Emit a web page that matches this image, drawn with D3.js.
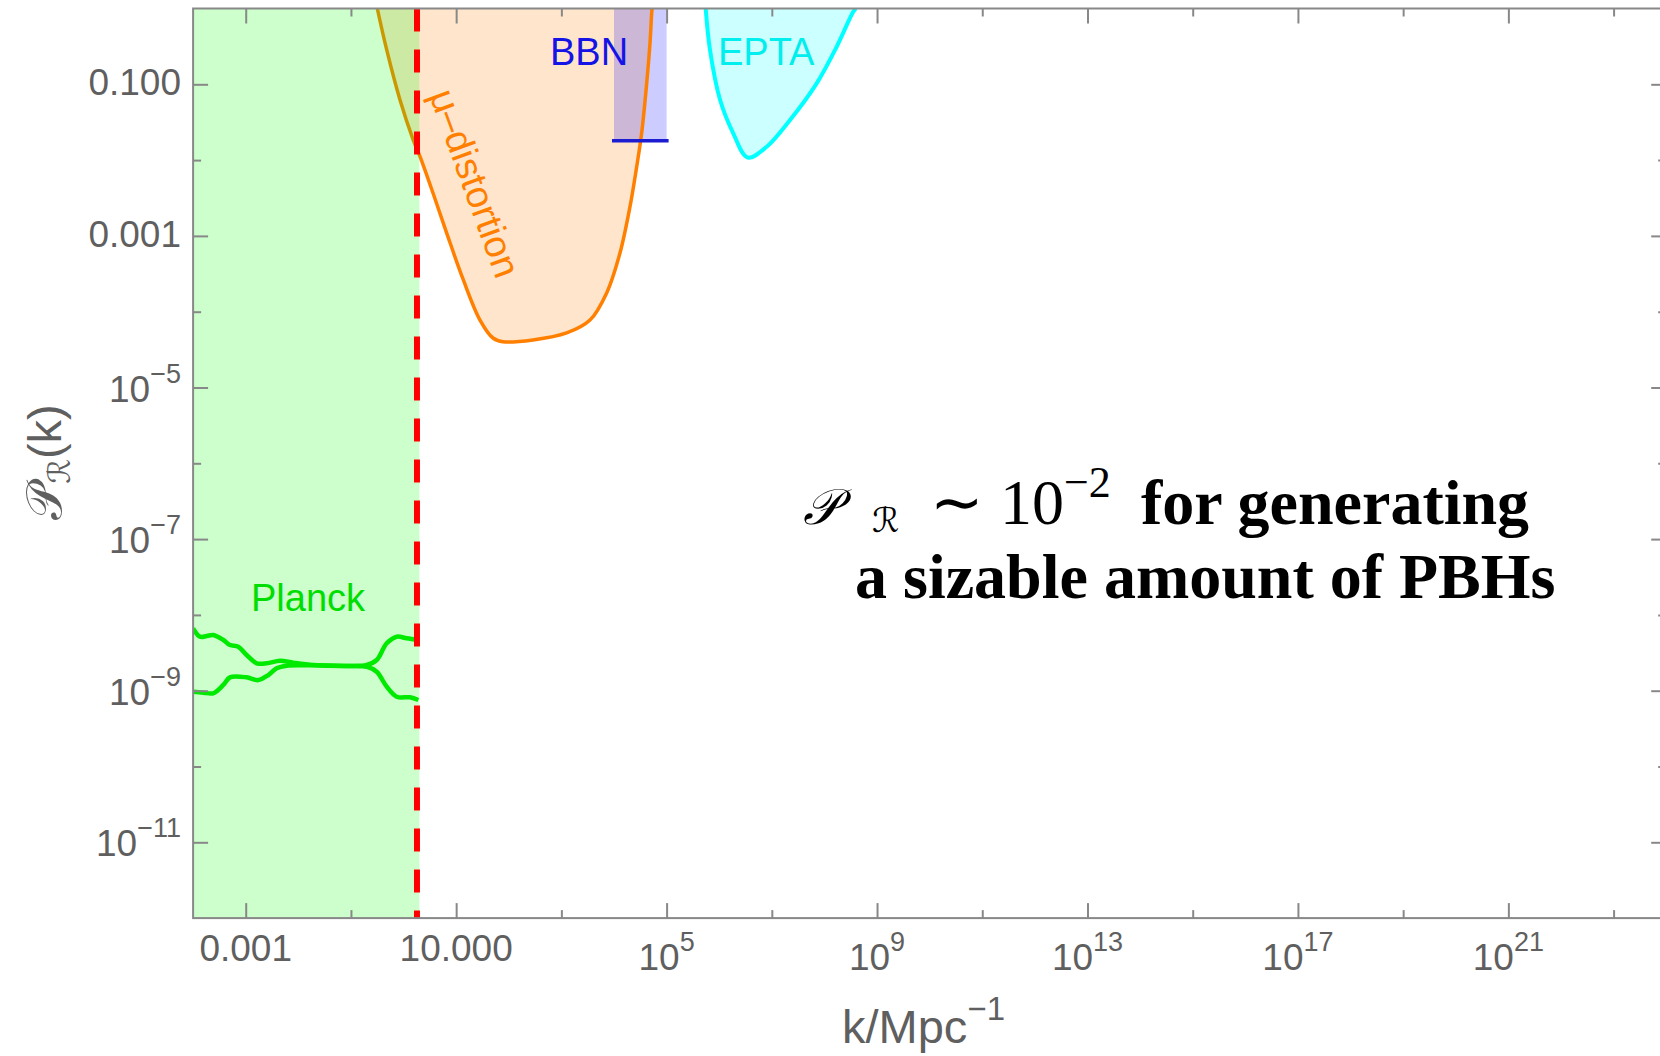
<!DOCTYPE html>
<html>
<head>
<meta charset="utf-8">
<script src="https://cdn.jsdelivr.net/npm/d3@7"></script>
<style>
  body { margin:0; background:#fff; }
  svg { display:block; }
  .tick-label { font-family: Arial, "Liberation Sans", sans-serif; font-size:37px; fill:#5f5f5f; }
  .axis-title { font-family: Arial, "Liberation Sans", sans-serif; font-size:47px; fill:#5f5f5f; }
  .note { font-family: "Liberation Serif", "Times New Roman", serif; fill:#000; }
</style>
</head>
<body>
<div class="chart-container"></div>
<script>
//Data (k in Mpc^-1, P_R(k))
const muK = [0.317, 0.479, 0.857, 1.53, 2.06, 3.63, 6.61, 13.7, 28.4, 50.1, 77.5, 288, 1260, 3500, 7260, 1.30e4, 2.01e4, 2.70e4, 3.36e4, 4.19e4, 4.84e4, 5.21e4, 5.3e4];
const muP = [1, 0.284, 0.0621, 0.0184, 0.0111, 3.68e-3, 1.09e-3, 2.62e-4, 7.76e-5, 4.50e-5, 4.02e-5, 4.24e-5, 5.24e-5, 7.76e-5, 1.77e-4, 5.95e-4, 2.41e-3, 8.18e-3, 0.0228, 0.104, 0.351, 0.873, 1];

const eptaK = [5.53e5, 6.68e5, 1.04e6, 1.85e6, 3.48e6, 8.0e6, 2.22e7, 7.13e7, 1.71e8, 3.54e8, 3.98e8];
const eptaP = [1, 0.284, 0.0621, 0.0226, 0.0108, 0.0150, 0.0338, 0.103, 0.313, 0.908, 1];

const bbnK = [1e4, 1e5];
const bbnP = 0.018;

const planckUpK = [1.0e-4, 1.35e-4, 1.82e-4, 2.42e-4, 3.75e-4, 5.02e-4, 7.23e-4, 1.04e-3, 1.62e-3, 2.51e-3, 4.49e-3, 8.03e-3, 0.0193, 0.0832, 0.200, 0.309, 0.479, 0.741, 1.15, 1.91];
const planckUpP = [6.65e-9, 5.16e-9, 5.27e-9, 5.43e-9, 4.67e-9, 4.01e-9, 3.80e-9, 2.96e-9, 2.30e-9, 2.30e-9, 2.49e-9, 2.34e-9, 2.18e-9, 2.12e-9, 2.18e-9, 2.54e-9, 4.22e-9, 5.16e-9, 4.91e-9, 4.67e-9];
const planckLowK = [1.0e-4, 1.56e-4, 2.42e-4, 3.75e-4, 5.02e-4, 1.04e-3, 1.73e-3, 2.69e-3, 3.88e-3, 6.01e-3, 0.0193, 0.0832, 0.200, 0.309, 0.479, 0.741, 1.33, 1.91];
const planckLowP = [9.70e-10, 9.42e-10, 9.25e-10, 1.19e-9, 1.50e-9, 1.50e-9, 1.38e-9, 1.61e-9, 1.98e-9, 2.14e-9, 2.16e-9, 2.12e-9, 2.07e-9, 1.78e-9, 1.13e-9, 8.33e-10, 8.18e-10, 7.54e-10];
const planckFillK = [1e-4, 2.0];
const planckLimitK = 1.8;

//Ticks
const xMajor = [1e-3, 1e1, 1e5, 1e9, 1e13, 1e17, 1e21];
const xLabels = ['0.001', '10.000', '10^5', '10^9', '10^13', '10^17', '10^21'];
const xMinor = [1e-1, 1e3, 1e7, 1e11, 1e15, 1e19, 1e23];
const yMajor = [1e-1, 1e-3, 1e-5, 1e-7, 1e-9, 1e-11];
const yLabels = ['0.100', '0.001', '10^-5', '10^-7', '10^-9', '10^-11'];
const yMinor = [1e-2, 1e-4, 1e-6, 1e-8, 1e-10];

const svg_width = 1660;
const svg_height = 1056;
const frame = {left:193.1, right:1666.2, top:8.5, bottom:918.1};

const svg = d3.select('.chart-container').append('svg')
  .attr('width', svg_width).attr('height', svg_height);

//scale
const xScale = d3.scaleLog().domain([1e-4, 1e24]).range([frame.left, frame.right]);
const yScale = d3.scaleLog().domain([1e-12, 1]).range([frame.bottom, frame.top]);

svg.append('clipPath').attr('id','plot-clip').append('rect')
  .attr('x', frame.left).attr('y', frame.top)
  .attr('width', frame.right - frame.left).attr('height', frame.bottom - frame.top);

const plot = svg.append('g').attr('clip-path','url(#plot-clip)');

const curve = d3.line().x(d => xScale(d[0])).y(d => yScale(d[1])).curve(d3.curveCatmullRom.alpha(0.5));
const zip = (ks, ps) => ks.map((k, i) => [k, ps[i]]);

const muData = zip(muK, muP);
const eptaData = zip(eptaK, eptaP);

//fills
plot.append('path').attr('d', curve(muData) + 'Z')
  .style('fill','#ff7f00').style('fill-opacity',0.2);
plot.append('rect')
  .attr('x', xScale(bbnK[0])).attr('y', yScale(1))
  .attr('width', xScale(bbnK[1]) - xScale(bbnK[0]))
  .attr('height', yScale(bbnP) - yScale(1))
  .style('fill','#0000ff').style('fill-opacity',0.2);
plot.append('path').attr('d', curve(eptaData) + 'Z')
  .style('fill','#00ffff').style('fill-opacity',0.2);

//boundaries
plot.append('path').attr('d', curve(muData))
  .style('fill','none').style('stroke','#ff7f00').style('stroke-width',3.5);
plot.append('path').attr('d', curve(eptaData))
  .style('fill','none').style('stroke','#00ffff').style('stroke-width',4);
plot.append('line')
  .attr('x1', xScale(bbnK[0]) - 2).attr('x2', xScale(bbnK[1]) + 2)
  .attr('y1', yScale(bbnP)).attr('y2', yScale(bbnP))
  .style('stroke','#1c1cd0').style('stroke-width',3.5);

//Planck
plot.append('rect')
  .attr('x', xScale(planckFillK[0])).attr('y', yScale(1))
  .attr('width', xScale(planckFillK[1]) - xScale(planckFillK[0]))
  .attr('height', yScale(1e-12) - yScale(1))
  .style('fill','#00ff00').style('fill-opacity',0.2);
[zip(planckUpK, planckUpP), zip(planckLowK, planckLowP)].forEach(d => {
  plot.append('path').attr('d', curve(d))
    .style('fill','none').style('stroke','#00ea00').style('stroke-width',4.5);
});

plot.append('line')
  .attr('x1', xScale(planckLimitK)).attr('x2', xScale(planckLimitK))
  .attr('y1', frame.top).attr('y2', frame.bottom)
  .style('stroke','#ff0000').style('stroke-width',6).style('stroke-dasharray','23,18');

//region labels
const labelFont = 'Arial, "Liberation Sans", sans-serif';
function regionLabel(txt, x, y, color){
  return svg.append('text').attr('x', x).attr('y', y).text(txt)
    .style('font-family', labelFont).style('font-size','38px').style('fill', color);
}
regionLabel('BBN', 550, 65, '#1414e6');
regionLabel('EPTA', 718, 65, '#00eeee');
regionLabel('Planck', 251, 611, '#00dd00');
svg.append('text').attr('transform','translate(429,95) rotate(70)')
  .text('\u03bc\u2013distortion')
  .style('font-family', labelFont).style('font-size','38px').style('fill','#ff7f00');

//frame and ticks
function styleAxis(g){
  g.select('.domain').remove();
  g.selectAll('line').style('stroke','#888').style('stroke-width',2);
}
const axes = [
  [d3.axisBottom, xMajor, 15, `translate(0,${frame.bottom})`, xScale],
  [d3.axisBottom, xMinor, 8, `translate(0,${frame.bottom})`, xScale],
  [d3.axisTop, xMajor, 15, `translate(0,${frame.top})`, xScale],
  [d3.axisTop, xMinor, 8, `translate(0,${frame.top})`, xScale],
  [d3.axisLeft, yMajor, 15, `translate(${frame.left},0)`, yScale],
  [d3.axisLeft, yMinor, 8, `translate(${frame.left},0)`, yScale],
  [d3.axisRight, yMajor, 15, `translate(${frame.right},0)`, yScale],
  [d3.axisRight, yMinor, 8, `translate(${frame.right},0)`, yScale]
];
axes.forEach(([axisFn, vals, size, tr, sc]) => {
  svg.append('g').attr('transform', tr)
    .call(axisFn(sc).tickValues(vals).tickSizeInner(-size).tickSizeOuter(0).tickFormat(''))
    .call(styleAxis);
});
svg.append('rect')
  .attr('x', frame.left).attr('y', frame.top)
  .attr('width', frame.right - frame.left).attr('height', frame.bottom - frame.top)
  .style('fill','none').style('stroke','#888').style('stroke-width',2);

//tick labels with superscripts
function addPower(text, label){
  const m = label.match(/^10\^(.+)$/);
  if(m){
    text.append('tspan').text('10');
    text.append('tspan').attr('dy',-19).style('font-size','27px').text(m[1].replace('-','\u2212'));
  } else {
    text.text(label);
  }
}
xMajor.forEach((v, i) => {
  const isPow = xLabels[i].includes('^');
  const t = svg.append('text').attr('class','tick-label')
    .attr('x', xScale(v)).attr('y', isPow ? 970 : 961)
    .attr('text-anchor','middle');
  addPower(t, xLabels[i]);
});
yMajor.forEach((v, i) => {
  const isPow = yLabels[i].includes('^');
  const t = svg.append('text').attr('class','tick-label')
    .attr('x', 181).attr('y', yScale(v) + (isPow ? 14 : 11))
    .attr('text-anchor','end');
  addPower(t, yLabels[i]);
});

//axis titles
const xTitle = svg.append('text').attr('class','axis-title')
  .attr('x', 842).attr('y', 1043);
xTitle.append('tspan').text('k/Mpc');
xTitle.append('tspan').attr('dy',-23).style('font-size','33px').text('\u22121');

const scriptFont = '"DejaVu Serif", "DejaVu Sans", serif';
const yTitle = svg.append('text').attr('class','axis-title')
  .attr('transform','translate(61,462) rotate(-90)').attr('text-anchor','middle');
yTitle.append('tspan').style('font-family', scriptFont).style('font-size','50px').text('\u{1D4AB}');
yTitle.append('tspan').attr('dy',9).style('font-family', scriptFont).style('font-size','31px').text('\u211B');
yTitle.append('tspan').attr('dy',-9).text('(k)');

//annotation
function note(txt, x, y, size, extra){
  const t = svg.append('text').attr('class','note')
    .attr('x', x).attr('y', y).style('font-size', size + 'px').text(txt);
  if(extra) extra(t);
  return t;
}
const script = t => t.style('font-family', scriptFont).style('font-style','italic');
const bold = t => t.style('font-weight','bold');
note('\u{1D4AB}', 803, 524, 50, script);
note('\u211B', 872, 532, 34, script);
note('\u223C', 930, 524, 64);
note('10', 1000, 524, 64);
note('\u22122', 1064, 497, 44);
note('for generating', 1141, 524, 64, bold);
note('a sizable amount of PBHs', 855, 598, 64, bold);
</script>
</body>
</html>
